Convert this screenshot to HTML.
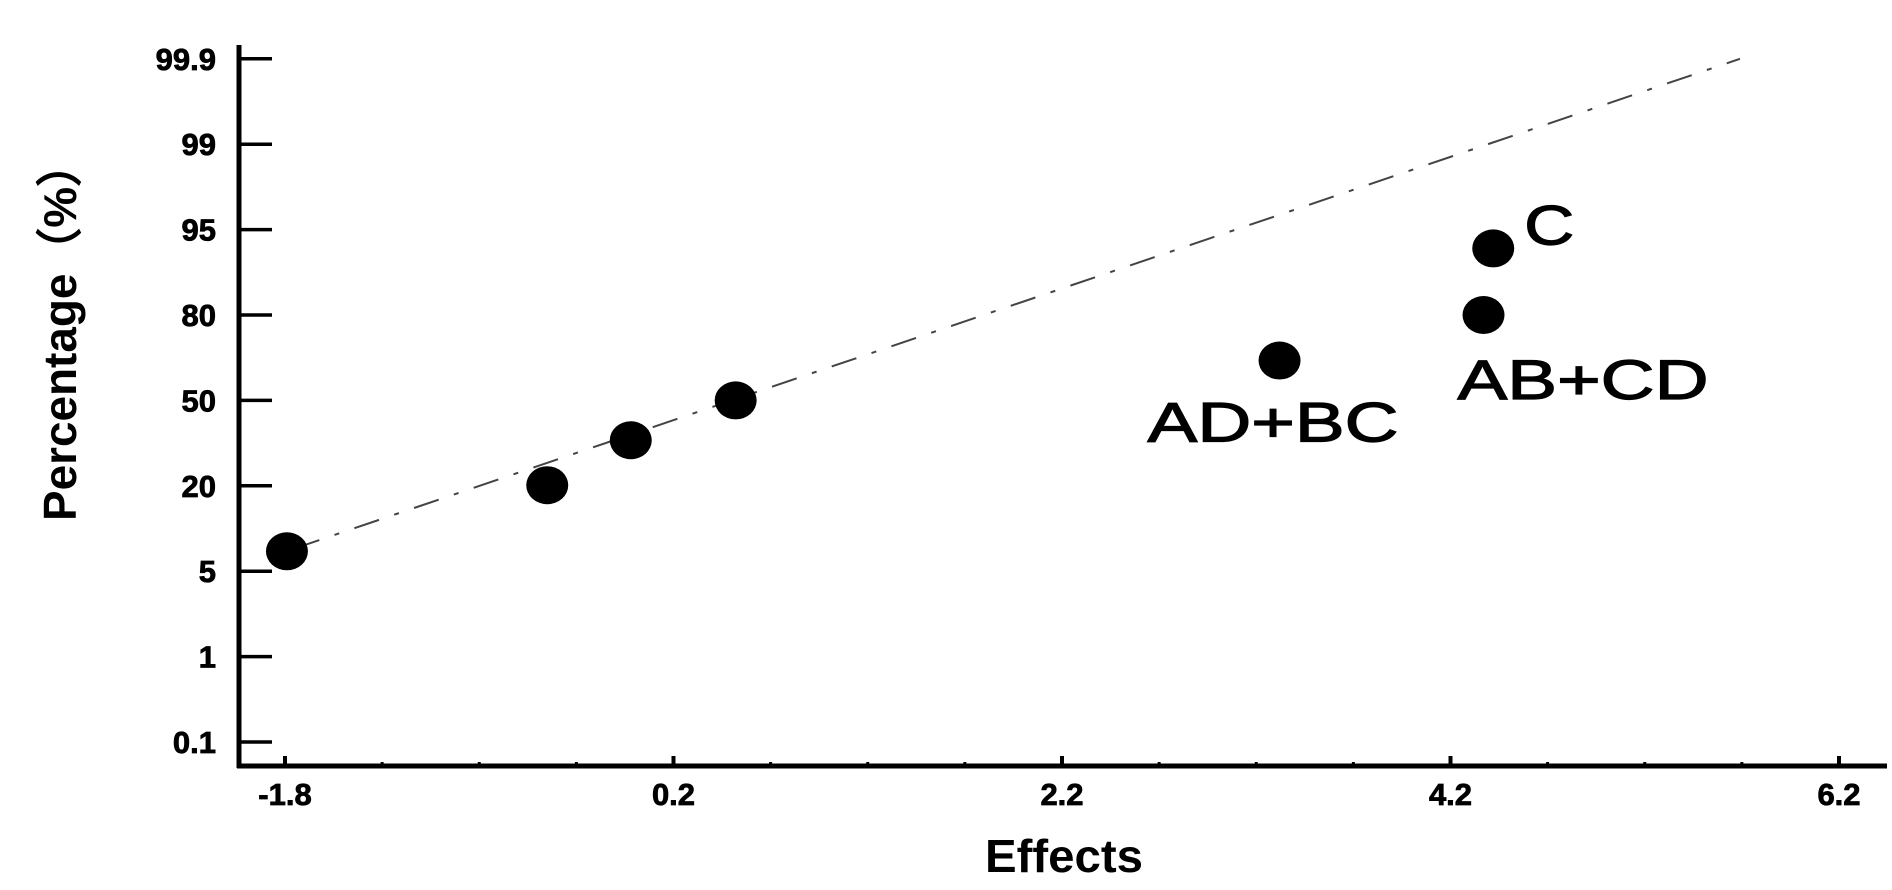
<!DOCTYPE html>
<html><head><meta charset="utf-8"><style>
html,body{margin:0;padding:0;background:#fff;}
svg{display:block;font-family:"Liberation Sans",Arial,sans-serif;}
</style></head><body>
<svg id="chart" width="1892" height="890" viewBox="0 0 1892 890" xmlns="http://www.w3.org/2000/svg">
<g id="axes"></g>
<g id="marks"></g>
<text x="0" y="0" transform="translate(76,331) rotate(-90)" text-anchor="middle" font-weight="bold" font-size="46" textLength="380" lengthAdjust="spacingAndGlyphs">Percentage（%）</text>
<text x="1064" y="872" text-anchor="middle" font-weight="bold" font-size="46" textLength="158" lengthAdjust="spacingAndGlyphs">Effects</text>
</svg>
<script>
const yTickLabels = ["0.1","1","5","20","50","80","95","99","99.9"];
const yTickValues = [0.1,1,5,20,50,80,95,99,99.9];
const xTickLabels = ["-1.8","0.2","2.2","4.2","6.2"];
const xTickValues = [-1.8,0.2,2.2,4.2,6.2];
const effectValues = [-1.79,-0.45,-0.02,0.52,3.32,4.37,4.42];
const percentValues = [8.5,20.2,36,50,64,80,91.7];
const pointLabels = ["","","","","AD+BC","AB+CD","C"];
const lineX = [-1.75,5.69];
const lineP = [9,99.9];

const NS="http://www.w3.org/2000/svg";
const X0=239, Y0=766;
function xs(v){return 285+(v+1.8)*194.25;}
function ys(p){
  const n=yTickValues.length;
  let idx;
  if(p<=yTickValues[0]) idx=(p-yTickValues[0])/(yTickValues[1]-yTickValues[0]);
  else if(p>=yTickValues[n-1]) idx=(n-1)+(p-yTickValues[n-1])/(yTickValues[n-1]-yTickValues[n-2]);
  else { for(let i=0;i<n-1;i++){ if(p>=yTickValues[i]&&p<=yTickValues[i+1]){ idx=i+(p-yTickValues[i])/(yTickValues[i+1]-yTickValues[i]); break; } } }
  return 742-idx*85.4;
}
function mk(tag,attrs,parent){const e=document.createElementNS(NS,tag);for(const k in attrs)e.setAttribute(k,attrs[k]);parent.appendChild(e);return e;}
const axes=document.getElementById('axes'), marks=document.getElementById('marks');

let yl=mk('line',{x1:X0,y1:45,x2:X0,y2:Y0+2,stroke:'#000','stroke-width':5},axes);


let xl=mk('line',{x1:X0-2,y1:Y0,x2:1887,y2:Y0,stroke:'#000','stroke-width':5},axes);



yTickValues.forEach((v,i)=>{
  const y=ys(v);
  const t=mk('line',{x1:X0,y1:y,x2:X0+33,y2:y,stroke:'#000','stroke-width':3.5},axes);
  
  
  const l=mk('text',{x:216,y:y+11,'text-anchor':'end','font-weight':'bold','font-size':31,stroke:'#000','stroke-width':0.8},axes);
  l.textContent=yTickLabels[i];
  
  
});
for(let v=-1.8;v<=6.21;v+=0.5){
  const major=xTickValues.some(t=>Math.abs(t-v)<1e-6);
  const x=xs(v);
  const t=mk('line',{x1:x,y1:Y0,x2:x,y2:Y0-(major?10:4),stroke:'#000','stroke-width':major?4:3},axes);
  
  
}
xTickValues.forEach((v,i)=>{
  const l=mk('text',{x:xs(v),y:805,'text-anchor':'middle','font-weight':'bold','font-size':31,stroke:'#000','stroke-width':0.8},axes);
  l.textContent=xTickLabels[i];
  
  
});

const ln=mk('line',{x1:xs(lineX[0]),y1:ys(lineP[0]),x2:xs(lineX[1]),y2:ys(lineP[1]),stroke:'#444','stroke-width':2,'stroke-dasharray':'26 16 5 16'},marks);



effectValues.forEach((v,i)=>{
  const cx=xs(v), cy=ys(percentValues[i]);
  const d=mk('ellipse',{cx:cx,cy:cy,rx:21,ry:19,fill:'#000'},marks);
  
  
  const lab=pointLabels[i];
  if(lab){
    let tx,ty,w;
    if(lab==="AD+BC"){tx=cx-132;ty=cy+81;w=251;}
    else if(lab==="AB+CD"){tx=cx-26;ty=cy+84;w=251;}
    else {tx=cx+31;ty=cy-4;w=50;}
    const t=mk('text',{x:tx,y:ty,'font-size':56,textLength:w,lengthAdjust:'spacingAndGlyphs',stroke:'#000','stroke-width':1.2},marks);
    t.textContent=lab;
    
    
  }
});
</script>
</body></html>
